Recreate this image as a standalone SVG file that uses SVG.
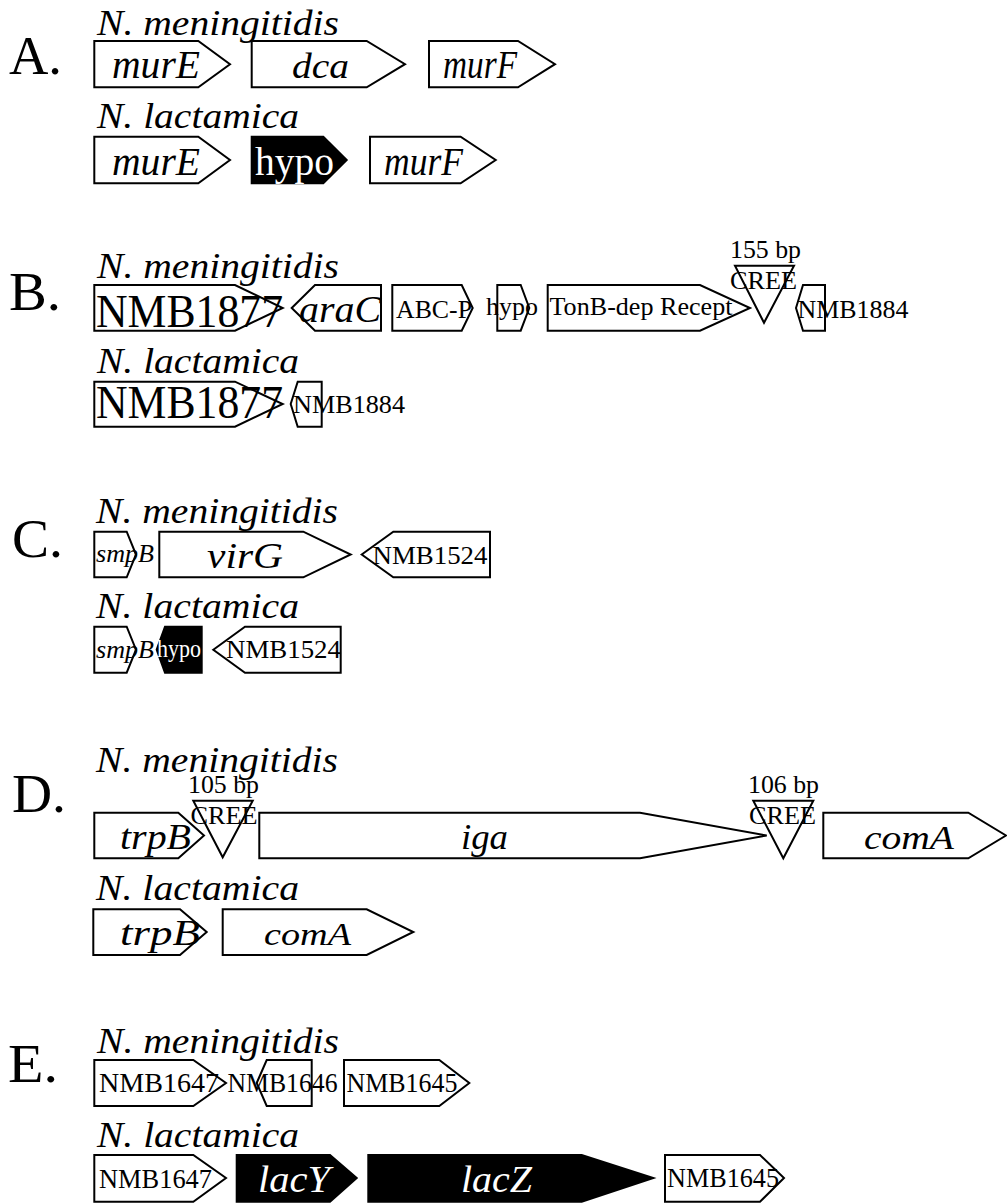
<svg xmlns="http://www.w3.org/2000/svg" width="1007" height="1203" viewBox="0 0 1007 1203">
<style>
.g{fill:#fff;stroke:#000;stroke-width:2;stroke-linejoin:miter}
.b{fill:#000;stroke:#000;stroke-width:2}
.tri{fill:none;stroke:#000;stroke-width:2}
text{font-family:"Liberation Serif","Times New Roman",serif;fill:#000}
.i{font-style:italic}
.w{fill:#fff}
.lab{font-size:54px}
.sp{font-size:36px;font-style:italic}
.s{font-size:25px}
</style>
<rect width="1007" height="1203" fill="#fff"/>

<!-- Section A -->
<g id="secA">
<text class="lab" x="9" y="74" textLength="53" lengthAdjust="spacingAndGlyphs">A.</text>
<text class="sp" x="97" y="35" textLength="242" lengthAdjust="spacingAndGlyphs">N. meningitidis</text>
<text class="sp" x="97" y="128.3" textLength="202" lengthAdjust="spacingAndGlyphs">N. lactamica</text>
<g id="A_nm_murE"><polygon class="g" points="94.3,41 198.3,41 230,64.2 198.3,87.3 94.3,87.3"/><text class="i" x="112" y="78.3" font-size="39" textLength="88" lengthAdjust="spacingAndGlyphs">murE</text></g>
<g id="A_nm_dca"><polygon class="g" points="251.7,41 366.7,41 405,64.2 366.7,87.3 251.7,87.3"/><text class="i" x="292" y="78.3" font-size="36" textLength="57" lengthAdjust="spacingAndGlyphs">dca</text></g>
<g id="A_nm_murF"><polygon class="g" points="429,41 518,41 555,64.2 518,87.3 429,87.3"/><text class="i" x="443" y="78.3" font-size="39" textLength="74" lengthAdjust="spacingAndGlyphs">murF</text></g>
<g id="A_nl_murE"><polygon class="g" points="94.3,136.7 198.3,136.7 230,160 198.3,183.3 94.3,183.3"/><text class="i" x="112" y="174.5" font-size="39" textLength="88" lengthAdjust="spacingAndGlyphs">murE</text></g>
<g id="A_nl_hypo"><polygon class="b" points="251.7,136.7 323.3,136.7 346.7,160 323.3,183.3 251.7,183.3"/><text class="w" x="255" y="175" font-size="41" textLength="79" lengthAdjust="spacingAndGlyphs">hypo</text></g>
<g id="A_nl_murF"><polygon class="g" points="370,136.7 460.6,136.7 495.7,160 460.6,183.3 370,183.3"/><text class="i" x="384" y="174.5" font-size="39" textLength="79" lengthAdjust="spacingAndGlyphs">murF</text></g>
</g>

<!-- Section B -->
<g id="secB">
<text class="lab" x="9" y="310" textLength="52" lengthAdjust="spacingAndGlyphs">B.</text>
<text class="sp" x="97" y="278" textLength="242" lengthAdjust="spacingAndGlyphs">N. meningitidis</text>
<text class="sp" x="97" y="373" textLength="202" lengthAdjust="spacingAndGlyphs">N. lactamica</text>
<g id="B_nm_NMB1877"><polygon class="g" points="94.3,285 235,285 282.7,308 235,330.7 94.3,330.7"/><text x="96" y="327" font-size="46" textLength="187" lengthAdjust="spacingAndGlyphs">NMB1877</text></g>
<g id="B_nm_araC"><polygon class="g" points="291.7,308 315,285 381,285 381,330.7 315,330.7"/><text class="i" x="299" y="321.7" font-size="38" textLength="82" lengthAdjust="spacingAndGlyphs">araC</text></g>
<g id="B_nm_ABCP"><polygon class="g" points="392.3,285 461.7,285 472.7,308 461.7,330.7 392.3,330.7"/><text class="s" x="396" y="318.3" textLength="76" lengthAdjust="spacingAndGlyphs">ABC-P</text></g>
<g id="B_nm_hypo"><polygon class="g" points="497.3,285 520.7,285 529.3,308 520.7,330.7 497.3,330.7"/><text class="s" x="486" y="315" textLength="52" lengthAdjust="spacingAndGlyphs">hypo</text></g>
<g id="B_nm_TonB"><polygon class="g" points="547.7,285 700,285 750,308 700,330.7 547.7,330.7"/><text class="s" x="549.5" y="315" textLength="183" lengthAdjust="spacingAndGlyphs">TonB-dep Recept</text></g>
<g id="B_nm_CREE"><polygon class="tri" points="735,265.7 794,265.7 764,322.7"/><text class="s" x="730" y="258.3" textLength="71" lengthAdjust="spacingAndGlyphs">155 bp</text><text class="s" x="730" y="289.3" textLength="67" lengthAdjust="spacingAndGlyphs">CREE</text></g>
<g id="B_nm_NMB1884"><polygon class="g" points="796,308 803,285 825,285 825,330.7 803,330.7"/><text class="s" x="797.5" y="318.3" textLength="111" lengthAdjust="spacingAndGlyphs">NMB1884</text></g>
<g id="B_nl_NMB1877"><polygon class="g" points="94.3,381.7 235,381.7 282.7,404 235,426.7 94.3,426.7"/><text x="96" y="418" font-size="46" textLength="187" lengthAdjust="spacingAndGlyphs">NMB1877</text></g>
<g id="B_nl_NMB1884"><polygon class="g" points="290.7,404 297.7,381.7 321.7,381.7 321.7,426.7 297.7,426.7"/><text class="s" x="293" y="413.3" textLength="112" lengthAdjust="spacingAndGlyphs">NMB1884</text></g>
</g>

<!-- Section C -->
<g id="secC">
<text class="lab" x="12" y="556.7" textLength="51" lengthAdjust="spacingAndGlyphs">C.</text>
<text class="sp" x="96" y="523.3" textLength="242" lengthAdjust="spacingAndGlyphs">N. meningitidis</text>
<text class="sp" x="96" y="618.3" textLength="203" lengthAdjust="spacingAndGlyphs">N. lactamica</text>
<g id="C_nm_smpB"><polygon class="g" points="94.3,531.7 126.7,531.7 136,554.5 126.7,577.3 94.3,577.3"/><text class="i s" x="96" y="561.7" textLength="58" lengthAdjust="spacingAndGlyphs">smpB</text></g>
<g id="C_nm_virG"><polygon class="g" points="159.3,531.7 303.3,531.7 350.7,554.5 303.3,577.3 159.3,577.3"/><text class="i" x="207" y="568.3" font-size="35" textLength="76" lengthAdjust="spacingAndGlyphs">virG</text></g>
<g id="C_nm_NMB1524"><polygon class="g" points="361.7,554.5 393.3,531.7 490,531.7 490,577.3 393.3,577.3"/><text class="s" x="372.5" y="564" font-size="26" textLength="115" lengthAdjust="spacingAndGlyphs">NMB1524</text></g>
<g id="C_nl_smpB"><polygon class="g" points="94.3,626.7 126.7,626.7 136,649.7 126.7,672.7 94.3,672.7"/><text class="i s" x="96" y="658.3" textLength="58" lengthAdjust="spacingAndGlyphs">smpB</text></g>
<g id="C_nl_hypo"><polygon class="b" points="156.7,649.7 165,626.7 201.7,626.7 201.7,672.7 165,672.7"/><text class="w s" x="157" y="656.7" textLength="44" lengthAdjust="spacingAndGlyphs">hypo</text></g>
<g id="C_nl_NMB1524"><polygon class="g" points="213.3,649.7 245,626.7 340.7,626.7 340.7,672.7 245,672.7"/><text class="s" x="226" y="658.3" font-size="26" textLength="115" lengthAdjust="spacingAndGlyphs">NMB1524</text></g>
</g>

<!-- Section D -->
<g id="secD">
<text class="lab" x="12" y="811.7" textLength="54" lengthAdjust="spacingAndGlyphs">D.</text>
<text class="sp" x="96" y="771.7" textLength="242" lengthAdjust="spacingAndGlyphs">N. meningitidis</text>
<text class="sp" x="96" y="900" textLength="203" lengthAdjust="spacingAndGlyphs">N. lactamica</text>
<g id="D_nm_trpB"><polygon class="g" points="94.3,812.7 178.3,812.7 204,835.5 178.3,858.3 94.3,858.3"/><text class="i" x="120" y="849.3" font-size="35" textLength="71" lengthAdjust="spacingAndGlyphs">trpB</text></g>
<g id="D_nm_CREE1"><polygon class="tri" points="193.3,800.7 252.7,800.7 222.7,857.3"/><text class="s" x="188" y="793.3" textLength="71" lengthAdjust="spacingAndGlyphs">105 bp</text><text class="s" x="190.5" y="824.3" textLength="67" lengthAdjust="spacingAndGlyphs">CREE</text></g>
<g id="D_nm_iga"><polygon class="g" points="259.3,812.7 640,812.7 766.7,835.5 640,858.3 259.3,858.3"/><text class="i" x="461" y="849.3" font-size="35" textLength="47" lengthAdjust="spacingAndGlyphs">iga</text></g>
<g id="D_nm_CREE2"><polygon class="tri" points="753.3,800.7 813.3,800.7 783.3,858.3"/><text class="s" x="748" y="793.3" textLength="71" lengthAdjust="spacingAndGlyphs">106 bp</text><text class="s" x="749" y="824.3" textLength="67" lengthAdjust="spacingAndGlyphs">CREE</text></g>
<g id="D_nm_comA"><polygon class="g" points="823.3,812.7 968.3,812.7 1006,835.5 968.3,858.3 823.3,858.3"/><text class="i" x="864" y="849.3" font-size="33" textLength="90" lengthAdjust="spacingAndGlyphs">comA</text></g>
<g id="D_nl_trpB"><polygon class="g" points="93.3,909.3 180,909.3 206.7,932 180,955 93.3,955"/><text class="i" x="120" y="945" font-size="35" textLength="80" lengthAdjust="spacingAndGlyphs">trpB</text></g>
<g id="D_nl_comA"><polygon class="g" points="222.7,909.3 366.7,909.3 413.3,932 366.7,955 222.7,955"/><text class="i" x="264" y="945" font-size="32" textLength="87" lengthAdjust="spacingAndGlyphs">comA</text></g>
</g>

<!-- Section E -->
<g id="secE">
<text class="lab" x="8" y="1081.7" textLength="50" lengthAdjust="spacingAndGlyphs">E.</text>
<text class="sp" x="97" y="1053.3" textLength="242" lengthAdjust="spacingAndGlyphs">N. meningitidis</text>
<text class="sp" x="97" y="1146.7" textLength="202" lengthAdjust="spacingAndGlyphs">N. lactamica</text>
<g id="E_nm_NMB1647"><polygon class="g" points="94.3,1060 193.3,1060 226,1083 193.3,1106 94.3,1106"/><text x="99" y="1091.7" font-size="27" textLength="120" lengthAdjust="spacingAndGlyphs">NMB1647</text></g>
<g id="E_nm_NMB1646"><polygon class="g" points="256.7,1083 266.7,1060 311.7,1060 311.7,1106 266.7,1106"/><text x="227.5" y="1091.7" font-size="27" textLength="110" lengthAdjust="spacingAndGlyphs">NMB1646</text></g>
<g id="E_nm_NMB1645"><polygon class="g" points="344,1060 439.3,1060 469.3,1083 439.3,1106 344,1106"/><text x="346.5" y="1091.7" font-size="27" textLength="111" lengthAdjust="spacingAndGlyphs">NMB1645</text></g>
<g id="E_nl_NMB1647"><polygon class="g" points="94.3,1155 193.3,1155 226,1178 193.3,1201.7 94.3,1201.7"/><text x="99" y="1188.3" font-size="27" textLength="113" lengthAdjust="spacingAndGlyphs">NMB1647</text></g>
<g id="E_nl_lacY"><polygon class="b" points="236.7,1155 330,1155 356.7,1178 330,1201.7 236.7,1201.7"/><text class="i w" x="258" y="1191.7" font-size="38" textLength="72" lengthAdjust="spacingAndGlyphs">lacY</text></g>
<g id="E_nl_lacZ"><polygon class="b" points="368.3,1155 581.7,1155 653.3,1178 581.7,1201.7 368.3,1201.7"/><text class="i w" x="461" y="1191.7" font-size="38" textLength="71" lengthAdjust="spacingAndGlyphs">lacZ</text></g>
<g id="E_nl_NMB1645"><polygon class="g" points="665,1155 760,1155 784,1178 760,1201.7 665,1201.7"/><text x="667" y="1186.7" font-size="27" textLength="112" lengthAdjust="spacingAndGlyphs">NMB1645</text></g>
</g>

<g id="connectors"></g>
</svg>
